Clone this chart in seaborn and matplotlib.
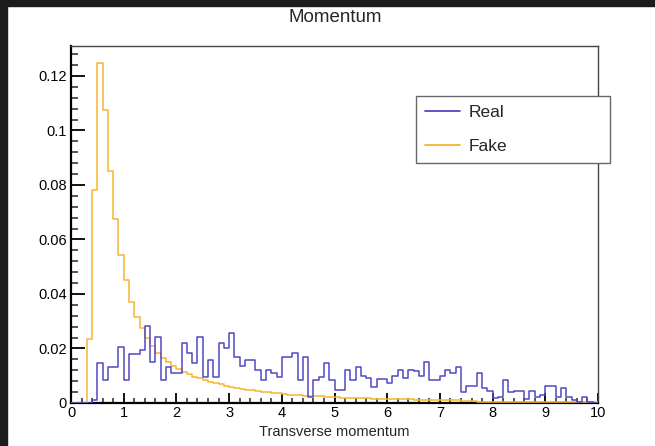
import numpy as np
import pandas as pd
import matplotlib
matplotlib.use("Agg")
import matplotlib.pyplot as plt
from matplotlib.patches import Rectangle
from matplotlib.lines import Line2D
from matplotlib.ticker import MultipleLocator, FuncFormatter
import seaborn as sns

# ---- data: 100 bins from 0 to 10 (width 0.1) ----
bin_edges = np.linspace(0, 10, 101)

real_values = [
    0, 0, 0, 0, 0.0010, 0.0147, 0.0083, 0.0132, 0.0132, 0.0206,
    0.0083, 0.0181, 0.0181, 0.0193, 0.0282, 0.0152, 0.0243, 0.0084, 0.0133, 0.0109,
    0.0109, 0.0219, 0.0182, 0.0148, 0.0243, 0.0094, 0.0158, 0.0094, 0.0219, 0.0201,
    0.0258, 0.0170, 0.0136, 0.0156, 0.0158, 0.0121, 0.0084, 0.0121, 0.0111, 0.0096,
    0.0170, 0.0170, 0.0182, 0.0084, 0.0170, 0.0021, 0.0084, 0.0096, 0.0148, 0.0084,
    0.0048, 0.0048, 0.0121, 0.0084, 0.0133, 0.0099, 0.0090, 0.0060, 0.0087, 0.0087,
    0.0075, 0.0100, 0.0120, 0.0090, 0.0122, 0.0116, 0.0100, 0.0150, 0.0084, 0.0084,
    0.0100, 0.0122, 0.0111, 0.0133, 0.0040, 0.0062, 0.0062, 0.0111, 0.0054, 0.0044,
    0.0020, 0.0022, 0.0084, 0.0040, 0.0044, 0.0044, 0.0014, 0.0044, 0.0022, 0.0030,
    0.0062, 0.0062, 0.0022, 0.0054, 0.0022, 0.0012, 0.0004, 0.0022, 0.0005, 0.0,
]

fake_values = [
    0, 0, 0, 0.0236, 0.0781, 0.1248, 0.1075, 0.0851, 0.0674, 0.0542,
    0.0450, 0.0371, 0.0316, 0.0277, 0.0240, 0.0210, 0.0185, 0.0165, 0.0150, 0.0137,
    0.0125, 0.0114, 0.0105, 0.0097, 0.0090, 0.0084, 0.0078, 0.0073, 0.0068, 0.0063,
    0.0059, 0.0055, 0.0052, 0.0049, 0.0046, 0.0043, 0.0041, 0.0039, 0.0037, 0.0035,
    0.0033, 0.0031, 0.0030, 0.0028, 0.0027, 0.0026, 0.0025, 0.0024, 0.0023, 0.0022,
    0.0021, 0.0020, 0.0019, 0.0019, 0.0018, 0.0017, 0.0017, 0.0016, 0.0016, 0.0015,
    0.0015, 0.0014, 0.0014, 0.0013, 0.0013, 0.0012, 0.0012, 0.0012, 0.0011, 0.0011,
    0.0011, 0.0010, 0.0010, 0.0010, 0.0009, 0.0009, 0.0009, 0.0004, 0.0004, 0.0004,
    0.0004, 0.0004, 0.0004, 0.0004, 0.0004, 0.0004, 0.0004, 0.0004, 0.0004, 0.0004,
    0.0004, 0.0004, 0.0004, 0.0004, 0.0004, 0.0004, 0.0004, 0.0004, 0.0004, 0.0004,
]

series_labels = ["Real", "Fake"]
title_text = "Momentum"
x_label_text = "Transverse momentum"

REAL_COLOR = "#5248c4"
FAKE_COLOR = "#f5b52e"

centers = (bin_edges[:-1] + bin_edges[1:]) / 2
df = pd.DataFrame({
    "x": np.concatenate([centers, centers]),
    "w": np.concatenate([real_values, fake_values]),
    "series": [series_labels[0]] * 100 + [series_labels[1]] * 100,
})

sns.set_style("white")
plt.rcParams["font.family"] = ["Liberation Sans", "DejaVu Sans"]

fig = plt.figure(figsize=(6.55, 4.46), dpi=100)
fig.patch.set_facecolor("white")
W, H = 655, 446
ax = fig.add_axes([71 / W, 1 - 403 / H, (598 - 71) / W, (403 - 46) / H])

sns.histplot(data=df, x="x", weights="w", hue="series",
             binwidth=0.1, binrange=(0, 10),
             element="step", fill=False, stat="count", common_norm=False,
             palette={series_labels[0]: REAL_COLOR, series_labels[1]: FAKE_COLOR},
             linewidth=1.1, legend=False, ax=ax)
for coll in list(ax.collections) + list(ax.patches) + list(ax.lines):
    coll.set_zorder(3)

ax.set_xlim(0, 10)
ax.set_ylim(0, 0.131)
ax.set_ylabel("")
ax.set_xlabel(x_label_text, fontsize=10.5)
ax.xaxis.set_label_coords(0.5, -0.062)

# ROOT-like axes
for side in ["left", "bottom"]:
    ax.spines[side].set_color("black")
    ax.spines[side].set_linewidth(1.6)
for side in ["top", "right"]:
    ax.spines[side].set_color("#444444")
    ax.spines[side].set_linewidth(1.0)

ax.xaxis.set_major_locator(MultipleLocator(1))
ax.xaxis.set_minor_locator(MultipleLocator(0.2))
ax.yaxis.set_major_locator(MultipleLocator(0.02))
ax.yaxis.set_minor_locator(MultipleLocator(0.004))
ax.yaxis.set_major_formatter(FuncFormatter(lambda v, p: f"{v:g}"))
ax.tick_params(axis="x", which="major", direction="in", length=7, width=1.3,
               labelsize=10.5, pad=2, bottom=True, top=False, colors="black")
ax.tick_params(axis="x", which="minor", direction="in", length=3.6, width=1.1,
               bottom=True, top=False)
ax.tick_params(axis="y", which="major", direction="in", length=10, width=1.3,
               labelsize=10.5, pad=3, left=True, right=False, colors="black")
ax.tick_params(axis="y", which="minor", direction="in", length=5, width=1.1,
               left=True, right=False)

fig.text(335 / W, 1 - 18 / H, title_text, ha="center", va="center", fontsize=13.5)

handles = [Line2D([0], [0], color=REAL_COLOR, lw=1.3),
           Line2D([0], [0], color=FAKE_COLOR, lw=1.3)]
leg = ax.legend(handles, series_labels, loc="upper left",
                bbox_to_anchor=(416 / W, 1 - 163 / H, (610 - 416) / W, (163 - 96) / H),
                bbox_transform=fig.transFigure, mode="expand",
                fontsize=12.5, frameon=True, fancybox=False, shadow=False,
                handlelength=2.0, handletextpad=0.5, borderpad=0.52,
                labelspacing=1.09, borderaxespad=0)
leg.get_frame().set_edgecolor("#666666")
leg.get_frame().set_linewidth(1.0)
leg.get_frame().set_alpha(1)
leg.set_zorder(5)

# dark screenshot border (left & top)
fig.patches.append(Rectangle((0, 0), 7 / W, 1, transform=fig.transFigure,
                             color="#1c1c1c", zorder=10))
fig.patches.append(Rectangle((0, 1 - 6 / H), 1, 6 / H, transform=fig.transFigure,
                             color="#1c1c1c", zorder=10))

fig.savefig("out.png", dpi=100)
